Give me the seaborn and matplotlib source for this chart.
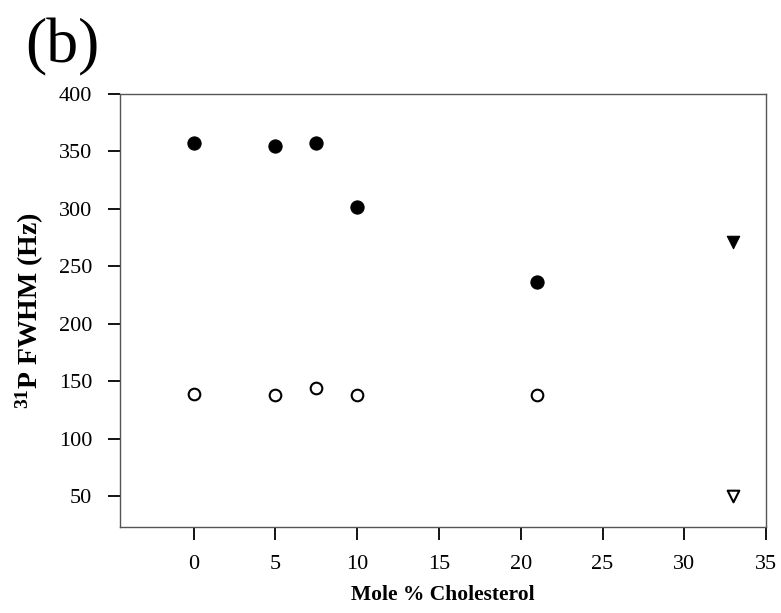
import matplotlib
matplotlib.use("Agg")
import matplotlib.pyplot as plt
import seaborn as sns
import pandas as pd

# Data
chol_circ = [0, 5, 7.5, 10, 21]
fwhm_broad = [357, 355, 357, 302, 236]
fwhm_narrow = [139, 138, 144, 138, 138]
chol_tri = [33]
fwhm_tri_broad = [271]
fwhm_tri_narrow = [50]
xticks = [0, 5, 10, 15, 20, 25, 30, 35]
yticks = [50, 100, 150, 200, 250, 300, 350, 400]

sns.set_theme(style="white")
plt.rcParams['font.family'] = ['Liberation Serif', 'DejaVu Serif']
plt.rcParams['text.color'] = 'black'
plt.rcParams['axes.labelcolor'] = 'black'
plt.rcParams['mathtext.fontset'] = 'custom'
plt.rcParams['mathtext.rm'] = 'Liberation Serif:bold'
plt.rcParams['mathtext.bf'] = 'Liberation Serif:bold'
plt.rcParams['mathtext.it'] = 'Liberation Serif:bold'

fig = plt.figure(figsize=(7.81, 6.13), dpi=100)
ax = fig.add_axes([0.1537, 0.1403, 0.8273, 0.7064])

df_bc = pd.DataFrame({'x': chol_circ, 'y': fwhm_broad})
df_nc = pd.DataFrame({'x': chol_circ, 'y': fwhm_narrow})
df_bt = pd.DataFrame({'x': chol_tri, 'y': fwhm_tri_broad})
df_nt = pd.DataFrame({'x': chol_tri, 'y': fwhm_tri_narrow})

sns.scatterplot(data=df_bc, x='x', y='y', ax=ax, marker='o', s=90,
                color='black', edgecolor='black', linewidth=0.8, zorder=3)
sns.scatterplot(data=df_nc, x='x', y='y', ax=ax, marker='o', s=70,
                facecolor='white', edgecolor='black', linewidth=1.5, zorder=3)
sns.scatterplot(data=df_bt, x='x', y='y', ax=ax, marker='v', s=80,
                color='black', edgecolor='black', linewidth=0.8, zorder=3)
sns.scatterplot(data=df_nt, x='x', y='y', ax=ax, marker='v', s=70,
                facecolor='white', edgecolor='black', linewidth=1.5, zorder=3)

ax.set_xlim(-4.5, 35)
ax.set_ylim(23, 400)
ax.set_xticks(xticks)
ax.set_yticks(yticks)
ax.tick_params(axis='both', direction='out', length=9, width=1.3, color='black',
               labelsize=16, labelcolor='black', bottom=True, left=True)
ax.tick_params(axis='x', pad=11)
ax.tick_params(axis='y', pad=11)

for sp in ax.spines.values():
    sp.set_color('#555555')
    sp.set_linewidth(1.0)

ax.set_xlabel('Mole % Cholesterol', fontsize=15.5, fontweight='bold', labelpad=8,
              color='black')
ax.set_ylabel(r'$^{31}$P FWHM (Hz)', fontsize=20, fontweight='bold', labelpad=9,
              color='black')

fig.text(25 / 781, 1 - 62 / 613, '(b)', fontsize=46, va='baseline', ha='left',
         color='black')

fig.savefig('out.png', dpi=100)
